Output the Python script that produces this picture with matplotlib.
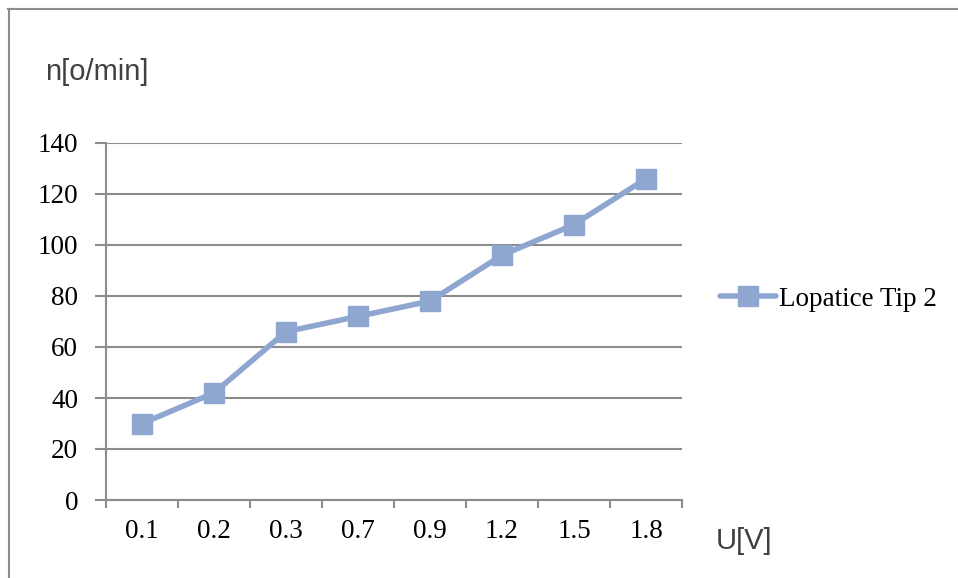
import numpy as np
import matplotlib.pyplot as plt
from matplotlib.lines import Line2D

categories = ["0.1", "0.2", "0.3", "0.7", "0.9", "1.2", "1.5", "1.8"]
speed = [30, 42, 66, 72, 78, 96, 108, 126]
y_ticks = [0, 20, 40, 60, 80, 100, 120, 140]
series_name = "Lopatice Tip 2"

line_color = "#8FA6D1"
grid_color = "#8C8C8C"
serif = ["Liberation Serif", "DejaVu Serif"]
sans = ["Liberation Sans", "DejaVu Sans"]

fig = plt.figure(figsize=(9.58, 5.78), dpi=100)
ax = fig.add_axes([106 / 958, 78 / 578, 576 / 958, 357 / 578])

x = np.arange(len(categories))
ax.plot(x, speed, color=line_color, linewidth=4, marker="s",
        markersize=14, markerfacecolor=line_color, markeredgecolor=line_color,
        solid_capstyle="round", zorder=3)

ax.set_xlim(-0.5, len(categories) - 0.5)
ax.set_ylim(0, 140)
ax.set_yticks(y_ticks)
ax.set_yticklabels([str(v) for v in y_ticks], family=serif, fontsize=19.5)
ax.set_xticks(x)
ax.set_xticklabels(categories, family=serif, fontsize=19.5)
ax.tick_params(axis="x", length=0, pad=14)
ax.set_xticks(np.arange(-0.5, len(categories)), minor=True)
ax.tick_params(axis="x", which="minor", length=6, width=1.5, color=grid_color)
ax.tick_params(axis="y", length=8, width=1.5, color=grid_color, pad=12)
ax.yaxis.grid(True, color=grid_color, linewidth=1.5)
ax.set_axisbelow(True)
for side in ["top", "right"]:
    ax.spines[side].set_visible(False)
for side in ["left", "bottom"]:
    ax.spines[side].set_color(grid_color)
    ax.spines[side].set_linewidth(1.5)

fig.text(45 / 958, 1 - 72 / 578, "n[o/min]", family=sans, fontsize=21,
         color="#404040", va="center", ha="left")
fig.text(716 / 958, 1 - 541 / 578, "U[V]", family=sans, fontsize=21,
         color="#404040", va="center", ha="left")

handle = Line2D([], [], color=line_color, linewidth=4, marker="s",
                markersize=14, solid_capstyle="round")
fig.legend([handle], [series_name], loc="center left",
           bbox_to_anchor=(706 / 958, 1 - 299 / 578), frameon=False,
           prop={"family": serif, "size": 19.5}, handlelength=2.1,
           handletextpad=0.1, borderpad=0)

# outer chart frame (top and left visible)
fig.add_artist(Line2D([8 / 958, 1], [1 - 9 / 578, 1 - 9 / 578],
                      color="#8C8C8C", linewidth=1.5))
fig.add_artist(Line2D([9 / 958, 9 / 958], [0, 1 - 9 / 578],
                      color="#8C8C8C", linewidth=1.5))

fig.savefig("out.png", dpi=100)
